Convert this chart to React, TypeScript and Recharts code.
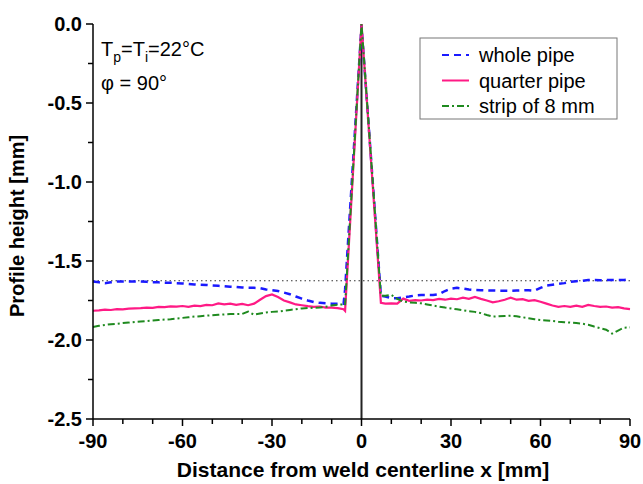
import React from "react";
import { LineChart, Line, XAxis, YAxis, ReferenceLine } from "recharts";

// distance from weld centerline [mm]
const xValues = [
  -90, -88, -86, -84, -82, -80, -78, -76, -74, -72, -70, -68, -66, -64, -62, -60, -58, -56, -54, -52, -50,
  -48, -46, -44, -42, -40, -38, -36, -34, -32, -30, -28, -26, -24, -22, -20, -18, -16, -14, -12, -10, -8,
  -6, -5.5, 0, 6.5,
  8, 10, 12, 14, 16, 18, 20, 22, 24, 26, 28, 30, 32, 34, 36, 38, 40, 42, 44, 46, 48, 50,
  52, 54, 56, 58, 60, 62, 64, 66, 68, 70, 72, 74, 76, 78, 80, 82, 84, 86, 88, 90,
];

const wholePipe = [
  -1.63, -1.635, -1.64, -1.635, -1.63, -1.63, -1.63, -1.63, -1.63, -1.632, -1.635, -1.635, -1.637, -1.638, -1.64, -1.642, -1.645, -1.648, -1.65, -1.652, -1.655,
  -1.657, -1.66, -1.663, -1.665, -1.668, -1.67, -1.67, -1.672, -1.68, -1.685, -1.69, -1.7, -1.71, -1.725, -1.738, -1.75, -1.76, -1.765, -1.768, -1.77, -1.77,
  -1.77, -1.68, -0.01, -1.72,
  -1.725, -1.735, -1.735, -1.73, -1.725, -1.718, -1.715, -1.715, -1.715, -1.71, -1.69, -1.675, -1.67, -1.675, -1.68, -1.684, -1.685, -1.686, -1.687, -1.688, -1.688, -1.688,
  -1.687, -1.686, -1.685, -1.688, -1.67, -1.655, -1.65, -1.645, -1.64, -1.632, -1.628, -1.625, -1.62, -1.62, -1.622, -1.62, -1.62, -1.62, -1.62, -1.618,
];

const quarterPipe = [
  -1.815, -1.812, -1.808, -1.81, -1.805, -1.806, -1.802, -1.8, -1.798, -1.795, -1.797, -1.79, -1.792, -1.787, -1.789, -1.785, -1.79, -1.783, -1.786, -1.778, -1.78,
  -1.768, -1.775, -1.77, -1.778, -1.772, -1.78, -1.77, -1.745, -1.722, -1.712, -1.728, -1.75, -1.762, -1.775, -1.78, -1.786, -1.79, -1.788, -1.795, -1.795, -1.798,
  -1.805, -1.815, 0.0, -1.765,
  -1.77, -1.768, -1.77, -1.738, -1.752, -1.748, -1.75, -1.745, -1.748, -1.74, -1.745, -1.738, -1.742, -1.732, -1.74, -1.728, -1.74, -1.75, -1.762, -1.755, -1.745, -1.732,
  -1.745, -1.742, -1.752, -1.748, -1.758, -1.77, -1.782, -1.79, -1.785, -1.79, -1.782, -1.79, -1.778, -1.785, -1.79, -1.788, -1.795, -1.792, -1.8, -1.805,
];

const strip8mm = [
  -1.918, -1.91, -1.905, -1.9, -1.897, -1.893, -1.89, -1.886, -1.883, -1.88, -1.877, -1.874, -1.871, -1.868, -1.864, -1.86, -1.856, -1.852, -1.849, -1.846, -1.843,
  -1.84, -1.838, -1.836, -1.835, -1.835, -1.82, -1.84, -1.832, -1.826, -1.822, -1.82, -1.815, -1.81, -1.805, -1.8, -1.798, -1.796, -1.795, -1.79, -1.782, -1.776,
  -1.775, -1.78, 0.0, -1.72,
  -1.72, -1.715, -1.74, -1.757, -1.762, -1.765, -1.768, -1.775, -1.782, -1.789, -1.795, -1.8, -1.806, -1.812, -1.818, -1.822, -1.83, -1.842, -1.852, -1.85, -1.848, -1.846,
  -1.85, -1.856, -1.862, -1.868, -1.873, -1.876, -1.88, -1.884, -1.887, -1.89, -1.893, -1.897, -1.903, -1.915, -1.925, -1.935, -1.96, -1.94, -1.922, -1.92,
];

const xTicks = [-90, -80, -70, -60, -50, -40, -30, -20, -10, 0, 10, 20, 30, 40, 50, 60, 70, 80, 90];
const yTicks = [0, -0.25, -0.5, -0.75, -1, -1.25, -1.5, -1.75, -2, -2.25, -2.5];
const flatLevel = -1.625;

const legendItems = [
  { name: "whole pipe", color: "#1a1aff", dash: "7 5" },
  { name: "quarter pipe", color: "#ff1a85", dash: undefined },
  { name: "strip of 8 mm", color: "#1f8a1f", dash: "7 3 2 3" },
];

const rows = xValues.map((x, i) => ({
  x,
  whole: wholePipe[i],
  quarter: quarterPipe[i],
  strip: strip8mm[i],
}));

const font = "'Liberation Sans', Arial, sans-serif";

function BottomTick({ x, y, payload }: any) {
  const major = payload.value % 30 === 0;
  return (
    <g>
      <line x1={x} y1={y} x2={x} y2={y + (major ? 7 : 5)} stroke="#000" strokeWidth={1.5} />
      {major && (
        <text x={x} y={y + 29} textAnchor="middle" fontSize={20} fontWeight="bold" fontFamily={font} fill="#000">
          {payload.value}
        </text>
      )}
    </g>
  );
}

function TopTick({ x, y, payload }: any) {
  const major = payload.value % 30 === 0;
  return <line x1={x} y1={y} x2={x} y2={y + (major ? 7 : 5)} stroke="#000" strokeWidth={1.5} />;
}

function LeftTick({ x, y, payload }: any) {
  const major = Math.abs(payload.value * 2 - Math.round(payload.value * 2)) < 1e-6;
  return (
    <g>
      <line x1={x} y1={y} x2={x - (major ? 7 : 5)} y2={y} stroke="#000" strokeWidth={1.5} />
      {major && (
        <text x={x - 11} y={y + 7} textAnchor="end" fontSize={20} fontWeight="bold" fontFamily={font} fill="#000">
          {payload.value.toFixed(1)}
        </text>
      )}
    </g>
  );
}

function RightTick({ x, y, payload }: any) {
  const major = Math.abs(payload.value * 2 - Math.round(payload.value * 2)) < 1e-6;
  return <line x1={x} y1={y} x2={x - (major ? 7 : 5)} y2={y} stroke="#000" strokeWidth={1.5} />;
}

const axisLine = { stroke: "#000", strokeWidth: 1.5 };

export default function App() {
  return (
    <div style={{ position: "absolute", left: 0, top: 0, width: 643, height: 484, background: "#fff" }}>
      <LineChart width={643} height={484} data={rows} margin={{ top: 24, right: 13, bottom: 0, left: 0 }}>
        <XAxis
          xAxisId="b"
          type="number"
          dataKey="x"
          domain={[-90, 90]}
          ticks={xTicks}
          interval={0}
          height={65}
          tickSize={0}
          tickMargin={0}
          tickLine={false}
          tick={<BottomTick />}
          axisLine={axisLine}
        />
        <XAxis
          xAxisId="t"
          orientation="top"
          type="number"
          dataKey="x"
          domain={[-90, 90]}
          ticks={xTicks}
          interval={0}
          height={0}
          tickSize={0}
          tickMargin={0}
          tickLine={false}
          tick={<TopTick />}
          axisLine={axisLine}
        />
        <YAxis
          yAxisId="l"
          type="number"
          domain={[-2.5, 0]}
          ticks={yTicks}
          interval={0}
          width={93}
          tickSize={0}
          tickMargin={0}
          tickLine={false}
          tick={<LeftTick />}
          axisLine={axisLine}
        />
        <YAxis
          yAxisId="r"
          orientation="right"
          type="number"
          domain={[-2.5, 0]}
          ticks={yTicks}
          interval={0}
          width={0}
          tickSize={0}
          tickMargin={0}
          tickLine={false}
          tick={<RightTick />}
          axisLine={axisLine}
        />
        <ReferenceLine xAxisId="b" yAxisId="l" y={flatLevel} stroke="#333" strokeWidth={1.2} strokeDasharray="1.5 3" />
        <ReferenceLine xAxisId="b" yAxisId="l" x={0} stroke="#222" strokeWidth={2} />
        <Line
          xAxisId="b"
          yAxisId="l"
          dataKey="whole"
          stroke={legendItems[0].color}
          strokeWidth={2.5}
          strokeDasharray={legendItems[0].dash}
          dot={false}
          isAnimationActive={false}
        />
        <Line
          xAxisId="b"
          yAxisId="l"
          dataKey="quarter"
          stroke={legendItems[1].color}
          strokeWidth={2.2}
          dot={false}
          isAnimationActive={false}
        />
        <Line
          xAxisId="b"
          yAxisId="l"
          dataKey="strip"
          stroke={legendItems[2].color}
          strokeWidth={2}
          strokeDasharray={legendItems[2].dash}
          dot={false}
          isAnimationActive={false}
        />
        <text x={101} y={56} fontSize={20} fontFamily={font} fill="#000">
          T<tspan dy={6} fontSize={14}>p</tspan>
          <tspan dy={-6}>=T</tspan>
          <tspan dy={6} fontSize={14}>i</tspan>
          <tspan dy={-6}>=22°C</tspan>
        </text>
        <text x={101} y={90} fontSize={20} fontFamily={font} fill="#000">
          φ = 90°
        </text>
        <rect x={420} y={38} width={197} height={81} fill="#fff" stroke="#777" strokeWidth={1} />
        {legendItems.map((item, i) => (
          <g key={item.name}>
            <line
              x1={442}
              x2={469}
              y1={55 + i * 25.5}
              y2={55 + i * 25.5}
              stroke={item.color}
              strokeWidth={2}
              strokeDasharray={item.dash}
            />
            <text x={479} y={62 + i * 25.5} fontSize={20} fontFamily={font} fill="#000">
              {item.name}
            </text>
          </g>
        ))}
        <text x={363} y={477} textAnchor="middle" fontSize={21} fontWeight="bold" fontFamily={font} fill="#000">
          Distance from weld centerline x [mm]
        </text>
        <text
          x={24}
          y={226}
          transform="rotate(-90 24 226)"
          textAnchor="middle"
          fontSize={20}
          fontWeight="bold"
          fontFamily={font}
          fill="#000"
        >
          Profile height [mm]
        </text>
      </LineChart>
    </div>
  );
}
